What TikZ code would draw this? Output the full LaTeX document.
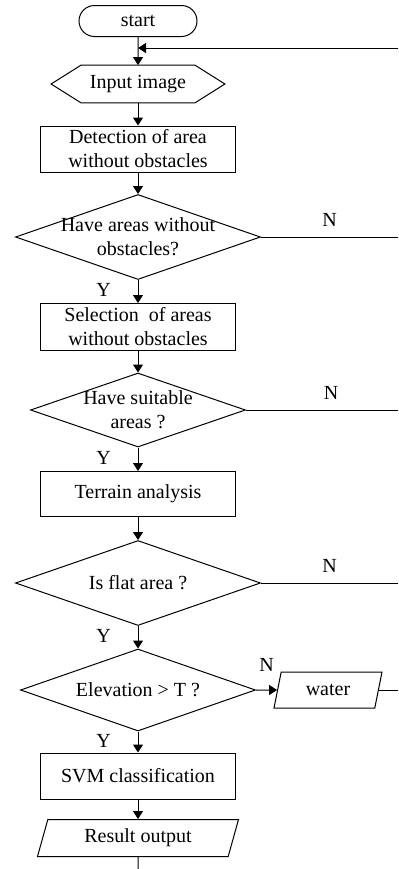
\documentclass[tikz,border=0pt]{standalone}
\usepackage{fontspec}
\setmainfont{Liberation Serif}
\usetikzlibrary{positioning, arrows.meta, shapes.geometric, shapes.misc}

\tikzset{
  flow/.style={line width=0.5pt},
  arr/.style={flow, -{Triangle[length=4pt,width=5pt]}},
  term/.style={draw, line width=0.5pt, rounded rectangle, minimum width=61pt, minimum height=15.5pt, inner sep=1pt},
  inp/.style={rectangle, minimum width=56.5pt, minimum height=18.5pt, inner sep=1pt},
  box/.style={draw, line width=0.5pt, rectangle, minimum width=97.5pt, minimum height=23pt, align=center, inner sep=1pt},
  ask/.style={draw, line width=0.5pt, diamond, inner sep=0pt},
  io/.style={draw, line width=0.5pt, trapezium, trapezium left angle=65, trapezium right angle=115, trapezium stretches body, minimum height=18pt, inner sep=1pt},
  yes/.style={pos=0.45, left=10pt},
  no/.style={above, yshift=1.5pt},
}

\begin{document}
\begin{tikzpicture}[on grid, font=\fontsize{10}{12}\selectfont]
  \useasboundingbox (0,0) rectangle (199pt,-434.5pt);

  \node[term] (start) at (69pt,-10.5pt) {start};
  \node[inp] (input) [below=31.5pt of start] {Input image};
  \node[box] (detect) [below=32.5pt of input] {Detection of area\\without obstacles};
  \node[ask, minimum width=122.5pt, minimum height=42.5pt,
        label={[align=center]center:{Have areas without\\obstacles?}}] (free) [below=44pt of detect] {};
  \node[box, minimum height=23.5pt] (select) [below=45pt of free] {Selection~ of areas\\without obstacles};
  \node[ask, minimum width=107.5pt, minimum height=37pt,
        label={[align=center]center:{Have suitable\\areas ?}}] (suit) [below=41.5pt of select] {};
  \node[box, minimum height=22.5pt] (terrain) [below=42pt of suit] {Terrain analysis};
  \node[ask, minimum width=122.5pt, minimum height=42.5pt,
        label={center:Is flat area ?}] (flat) [below=44.5pt of terrain] {};
  \node[ask, minimum width=117.5pt, minimum height=41pt,
        label={center:Elevation > T ?}] (elev) [below=53.5pt of flat] {};
  \node[io, minimum width=54pt] (water) [right=95pt of elev] {water};
  \node[box] (svm) [below=43pt of elev] {SVM classification};
  \node[io, minimum width=100.5pt, minimum height=18.5pt] (output) [below=31pt of svm] {Result output};

  % hexagon round the input node
  \draw[flow] (input.north west) -- (input.north east) -- ([xshift=15pt]input.east)
    -- (input.south east) -- (input.south west) -- ([xshift=-15pt]input.west) -- cycle;

  \coordinate (rim) at (199pt,-24pt);
  \coordinate (join) at (start |- rim);
  \coordinate (foot) at (69pt,-434.5pt);

  % main column
  \draw[arr] (start) -- (input);
  \draw[arr] (input) -- (detect);
  \draw[arr] (detect) -- (free);
  \draw[arr] (free) -- node[yes] {Y} (select);
  \draw[arr] (select) -- (suit);
  \draw[arr] (suit) -- node[yes] {Y} (terrain);
  \draw[arr] (terrain) -- (flat);
  \draw[arr] (flat) -- node[yes] {Y} (elev);
  \draw[arr] (elev) -- node[yes] {Y} (svm);
  \draw[arr] (svm) -- (output);
  \draw[flow] (output) -- (foot);

  % N branches back to the loop
  \draw[arr] (rim) -- (join);
  \draw[flow] (free.east) -- node[no] {N} (free.east -| rim);
  \draw[flow] (suit.east) -- node[no, pos=0.56] {N} (suit.east -| rim);
  \draw[flow] (flat.east) -- node[no] {N} (flat.east -| rim);
  \draw[arr] (elev) -- node[above, yshift=5.5pt] {N} (water);
  \draw[flow] (water.east) -- (water.east -| rim);
\end{tikzpicture}
\end{document}
